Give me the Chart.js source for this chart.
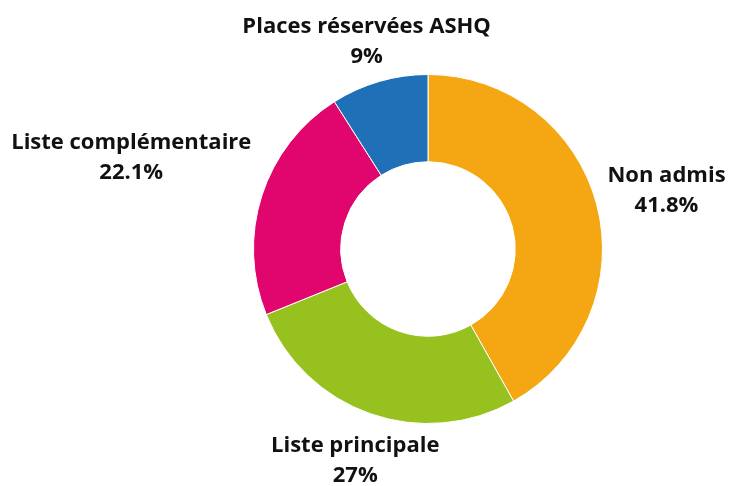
<!DOCTYPE html>
<html>
<head>
<meta charset="utf-8">
<script src="https://cdn.jsdelivr.net/npm/chart.js@4"></script>
<style>
  html, body { margin: 0; padding: 0; background: #fff; }
  #wrap { width: 731px; height: 486px; }
</style>
</head>
<body>
<div id="wrap"><canvas id="myChart" width="731" height="486"></canvas></div>
<script>
'use strict';
let categories = ['Non admis', 'Liste principale', 'Liste complémentaire', 'Places réservées ASHQ'];
let values = [41.8, 27, 22.1, 9];
let valueLabels = ['41.8%', '27%', '22.1%', '9%'];
let colors = ['#F4A712', '#97C11F', '#E1066E', '#1F70B7'];

// draws the two-line labels outside each slice
let outsideLabels = {
    id: 'outsideLabels',
    afterDatasetsDraw(chart) {
        let ctx = chart.ctx;
        let meta = chart.getDatasetMeta(0);
        let lineH = 30;
        ctx.save();
        ctx.font = 'bold 22px "Open Sans"';
        ctx.fillStyle = '#111';
        ctx.textAlign = 'center';
        ctx.textBaseline = 'middle';
        meta.data.forEach(function (arc, i) {
            let p = arc.getProps(['x', 'y', 'startAngle', 'endAngle', 'outerRadius'], true);
            let mid = (p.startAngle + p.endAngle) / 2;
            let dx = Math.cos(mid);
            let dy = Math.sin(mid);
            let w = Math.max(ctx.measureText(categories[i]).width, ctx.measureText(valueLabels[i]).width);
            let h = lineH * 2 + 6;
            // push the box out along the slice middle, by its half size on the main axis
            let edge = Math.abs(dx) > Math.abs(dy) ? (w / 2) / Math.abs(dx) : (h / 2) / Math.abs(dy);
            let r = p.outerRadius + 11 + edge;
            let cx = p.x + dx * r;
            let cy = p.y + dy * r + 4;
            ctx.fillText(categories[i], cx, cy - lineH / 2);
            ctx.fillText(valueLabels[i], cx, cy + lineH / 2);
        });
        ctx.restore();
    }
};

let ctx = document.getElementById('myChart').getContext('2d');
let myChart = new Chart(ctx, {
    type: 'doughnut',
    data: {
        labels: categories,
        datasets: [{
            data: values,
            backgroundColor: colors,
            borderColor: '#ffffff',
            borderWidth: 1
        }]
    },
    options: {
        responsive: false,
        animation: false,
        cutout: '50%',
        layout: { padding: { top: 74, bottom: 62, left: 253, right: 128 } },
        plugins: {
            legend: { display: false },
            tooltip: { enabled: false }
        }
    },
    plugins: [outsideLabels]
});
</script>
</body>
</html>
